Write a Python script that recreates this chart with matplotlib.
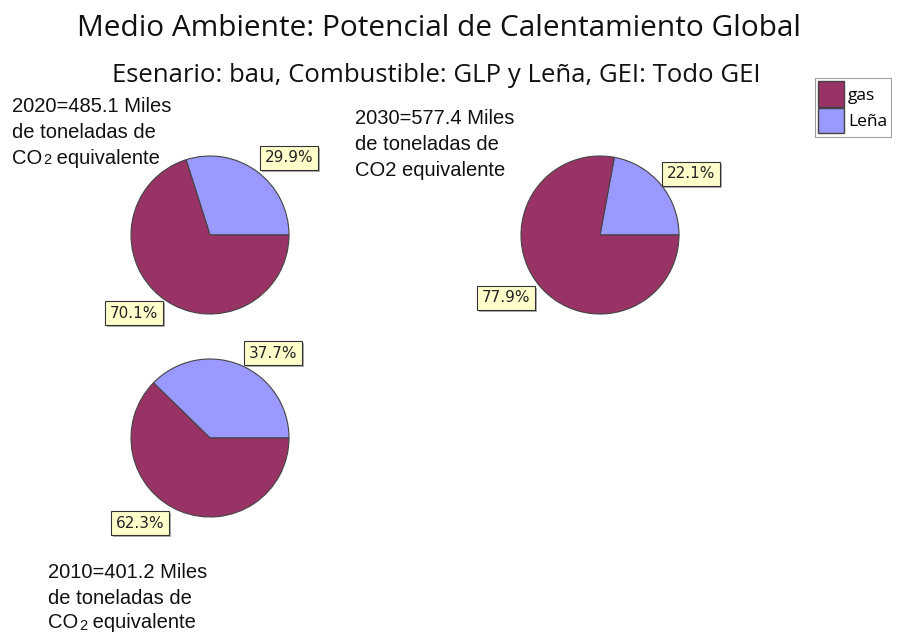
import matplotlib.pyplot as plt
from matplotlib.patches import Patch
import matplotlib.patheffects as pe

# shares per year, Leña first then gas (percent)
years = ["2020", "2030", "2010"]
lena = [29.9, 22.1, 37.7]
gas = [70.1, 77.9, 62.3]
totals = [485.1, 577.4, 401.2]
small_two = [True, False, True]

gas_color = '#993366'
lena_color = '#9999FF'

# layout in pixels (x from left, y from top)
centers = [(210, 235), (600, 235), (210, 438)]
radius = 79
lena_lbl = [(289, 158), (691, 174), (273, 353)]
gas_lbl = [(134, 313), (506, 298), (140, 523)]
note_pos = [(12, 106), (355, 119), (48, 573)]
line_gap = [26, 26, 25]

W, H = 900, 635
fig = plt.figure(figsize=(9, 6.35), dpi=100)
ax = fig.add_axes([0, 0, 1, 1])

fig.text(439 / W, 1 - 29 / H, 'Medio Ambiente: Potencial de Calentamiento Global',
         ha='center', va='center', fontsize=21.5, family='Open Sans', color='#111111')
fig.text(436 / W, 1 - 76 / H, 'Esenario: bau, Combustible: GLP y Leña, GEI: Todo GEI',
         ha='center', va='center', fontsize=18.5, family='Open Sans', color='#111111')

box = dict(boxstyle='square,pad=0.3', fc='#FFFFCC', ec='#333333', lw=0.8)
shadow = [pe.SimplePatchShadow(offset=(1.5, -1.5), shadow_rgbFace='#999999', alpha=0.8), pe.Normal()]
note_font = dict(fontsize=14.5, family='Liberation Sans', color='#111111')

for i in range(len(years)):
    cx, cy = centers[i]
    ax.pie([lena[i], gas[i]], colors=[lena_color, gas_color], startangle=0,
           counterclock=True, center=(cx, H - cy), radius=radius,
           wedgeprops=dict(edgecolor='#444444', linewidth=0.8), frame=True)

    for val, (lx, ly) in [(lena[i], lena_lbl[i]), (gas[i], gas_lbl[i])]:
        t = ax.text(lx, H - ly, f'{val:.1f}%', ha='center', va='center',
                    fontsize=11, family='DejaVu Sans', color='#222222', bbox=box)
        t.get_bbox_patch().set_path_effects(shadow)

    nx, ny = note_pos[i]
    g = line_gap[i]
    ax.text(nx, H - ny, f'{years[i]}={totals[i]:.1f} Miles', ha='left', va='center', **note_font)
    ax.text(nx, H - ny - g, 'de toneladas de', ha='left', va='center', **note_font)
    if small_two[i]:
        co = ax.text(nx, H - ny - 2 * g, 'CO', ha='left', va='center', **note_font)
        two = ax.annotate('2', xy=(1, 0), xycoords=co, xytext=(0.5, 0),
                          textcoords='offset points', ha='left', va='bottom',
                          fontsize=10.5, family='Liberation Sans', color='#111111')
        ax.annotate(' equivalente', xy=(1, 0), xycoords=two, ha='left', va='bottom', **note_font)
    else:
        ax.text(nx, H - ny - 2 * g, 'CO2 equivalente', ha='left', va='center', **note_font)

ax.set_xlim(0, W)
ax.set_ylim(0, H)
ax.set_aspect('equal')
ax.axis('off')

handles = [Patch(fc=gas_color, ec='#444444', label='gas'),
           Patch(fc=lena_color, ec='#444444', label='Leña')]
leg = fig.legend(handles=handles, loc='upper left', bbox_to_anchor=(815 / W, 1 - 78 / H),
                 prop={'family': 'Open Sans', 'size': 12.5}, frameon=True, fancybox=False,
                 handlelength=1.45, handleheight=1.9, handletextpad=0.25,
                 borderpad=0.2, labelspacing=0.02, borderaxespad=0)
leg.get_frame().set_edgecolor('#888888')
leg.get_frame().set_linewidth(0.8)

fig.savefig('out.png', dpi=100)
